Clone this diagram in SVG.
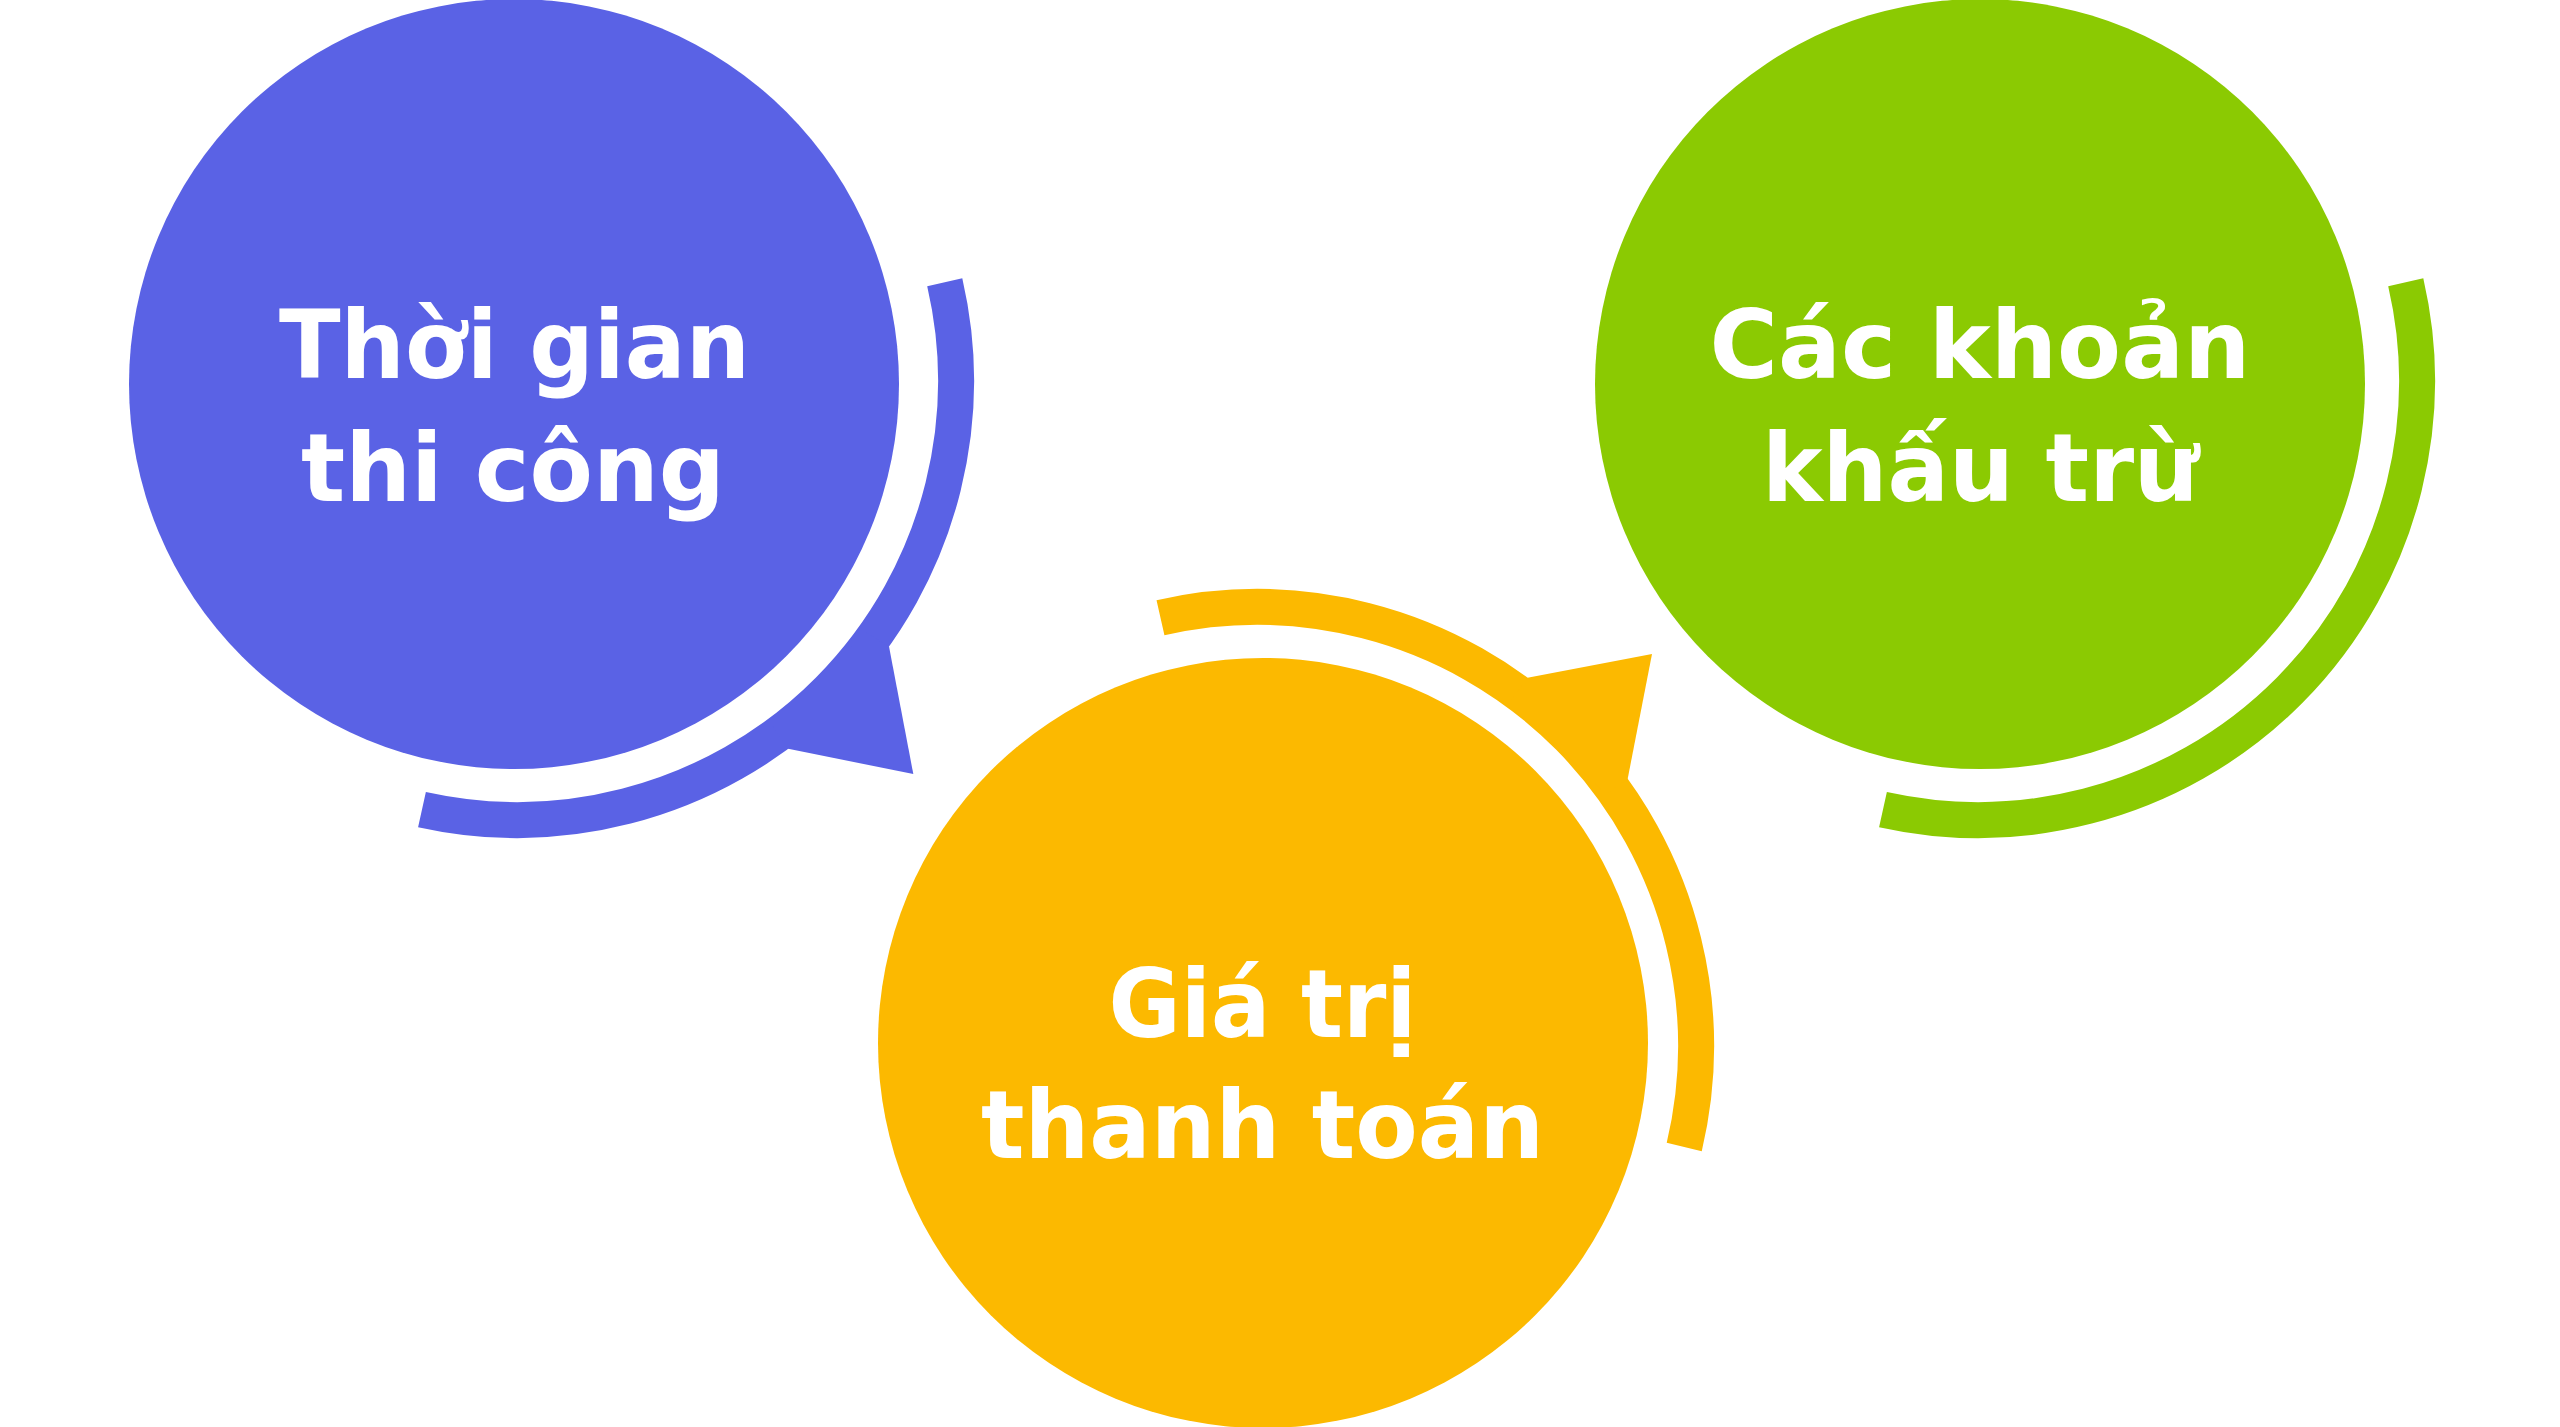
<svg xmlns="http://www.w3.org/2000/svg" width="2560" height="1427" viewBox="0 0 2560 1427">
  <style>
    .lbl { font-family: "DejaVu Sans", "Liberation Sans", "Noto Sans", sans-serif; font-weight: 700; font-size: 95px; fill: #FFFFFF; }
    .ring { fill: none; stroke-width: 36; stroke-linecap: butt; }
    .blue { fill: #5A62E5; }
    .blueS { stroke: #5A62E5; }
    .yellow { fill: #FCB900; }
    .yellowS { stroke: #FCB900; }
    .green { fill: #8BCA02; }
    .greenS { stroke: #8BCA02; }
  </style>
  <rect x="0" y="0" width="2560" height="1427" fill="#FFFFFF"/>

  <g id="node-thoi-gian-thi-cong">
    <circle class="blue" cx="514" cy="384" r="385"/>
    <path class="ring blueS" d="M 944.75 282.25 A 439 439 0 0 1 421.98 809.6"/>
    <polygon class="blue" points="889,646.4 913.3,774 788.2,748.8 772.8,726.7 865.8,632.5"/>
    <text class="lbl" x="279" y="378" textLength="471" lengthAdjust="spacingAndGlyphs">Th&#x1EDD;i gian</text>
    <text class="lbl" x="301" y="501" textLength="424" lengthAdjust="spacingAndGlyphs">thi c&#xF4;ng</text>
  </g>

  <g id="node-gia-tri-thanh-toan">
    <circle class="yellow" cx="1263" cy="1043" r="385"/>
    <path class="ring yellowS" d="M 1160.49 617.74 A 439 439 0 0 1 1684.23 1146.99"/>
    <polygon class="yellow" points="1527.5,677.7 1652,654 1627.7,778.7 1605.8,794.4 1511.6,699.5"/>
    <text class="lbl" x="1108.5" y="1037" textLength="308" lengthAdjust="spacingAndGlyphs">Gi&#xE1; tr&#x1ECB;</text>
    <text class="lbl" x="981" y="1158" textLength="563" lengthAdjust="spacingAndGlyphs">thanh to&#xE1;n</text>
  </g>

  <g id="node-cac-khoan-khau-tru">
    <circle class="green" cx="1980" cy="384" r="385"/>
    <path class="ring greenS" d="M 2405.75 282.25 A 439 439 0 0 1 1882.98 809.6"/>
    <text class="lbl" x="1709.5" y="378" textLength="541" lengthAdjust="spacingAndGlyphs">C&#xE1;c kho&#x1EA3;n</text>
    <text class="lbl" x="1762" y="501" textLength="437" lengthAdjust="spacingAndGlyphs">kh&#x1EA5;u tr&#x1EEB;</text>
  </g>
</svg>
